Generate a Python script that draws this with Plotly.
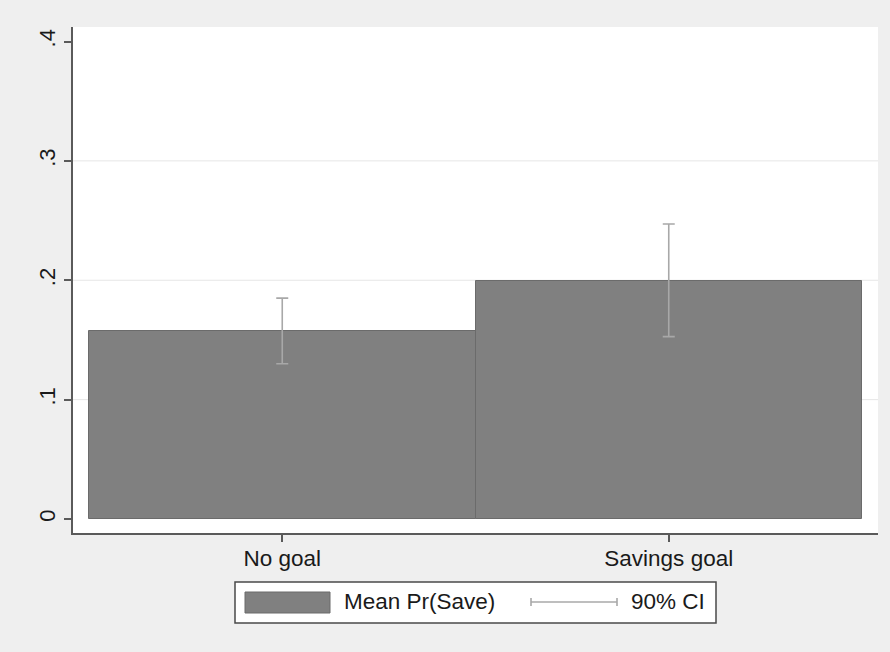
import plotly.graph_objects as go

# Mean probability of saving by goal condition, with 90% confidence bounds
groups = ["No goal", "Savings goal"]
mean_pr_save = [0.1575, 0.1993]
ci_lower = [0.1300, 0.1528]
ci_upper = [0.1850, 0.2471]

y_ticks = [0, 0.1, 0.2, 0.3, 0.4]
y_tick_text = ["0", ".1", ".2", ".3", ".4"]
grid_levels = [0.1, 0.2, 0.3]

legend_labels = ["Mean Pr(Save)", "90% CI"]

# Canvas and plot-area geometry (pixels)
W, H = 890, 652
L, R, T, B = 73, 12, 27, 119
PW, PH = W - L - R, H - T - B

BAR_FILL = "#808080"
BAR_EDGE = "#6b6b6b"
CI_COLOR = "#a8a8a8"
AXIS_COLOR = "#5a5a5a"
TEXT_COLOR = "#1a1a1a"
FONT = "Liberation Sans, Arial, sans-serif"


def px_x(px):
    return (px - L) / PW


def px_y(py):
    return (H - B - py) / PH


err_plus = [u - m for u, m in zip(ci_upper, mean_pr_save)]
err_minus = [m - lo for m, lo in zip(mean_pr_save, ci_lower)]

fig = go.Figure()
fig.add_trace(go.Bar(
    x=groups,
    y=mean_pr_save,
    width=1.0,
    marker=dict(color=BAR_FILL, line=dict(color=BAR_EDGE, width=1)),
    error_y=dict(type="data", symmetric=False, array=err_plus,
                 arrayminus=err_minus, color=CI_COLOR, thickness=1.6, width=6),
    name=legend_labels[0],
    showlegend=False,
    hoverinfo="skip",
))

shapes = []
# Horizontal grid lines drawn under the bars
for g in grid_levels:
    shapes.append(dict(type="line", xref="paper", yref="y", x0=0, x1=1,
                       y0=g, y1=g, layer="below",
                       line=dict(color="#e6e6e6", width=1)))

# Legend frame and keys
shapes.append(dict(type="rect", xref="paper", yref="paper",
                   x0=px_x(235), x1=px_x(716), y0=px_y(623), y1=px_y(582),
                   fillcolor="white", line=dict(color="#4a4a4a", width=1.5)))
shapes.append(dict(type="rect", xref="paper", yref="paper",
                   x0=px_x(245), x1=px_x(330), y0=px_y(613), y1=px_y(592),
                   fillcolor=BAR_FILL, line=dict(color=BAR_EDGE, width=1)))
ci_y = px_y(602)
shapes.append(dict(type="line", xref="paper", yref="paper",
                   x0=px_x(531), x1=px_x(617), y0=ci_y, y1=ci_y,
                   line=dict(color=CI_COLOR, width=1.6)))
for cx in (531, 617):
    shapes.append(dict(type="line", xref="paper", yref="paper",
                       x0=px_x(cx), x1=px_x(cx), y0=px_y(598), y1=px_y(606),
                       line=dict(color=CI_COLOR, width=1.6)))

annotations = [
    dict(text=legend_labels[0], xref="paper", yref="paper", x=px_x(342),
         y=ci_y, xanchor="left", yanchor="middle", showarrow=False,
         font=dict(size=22.5, color=TEXT_COLOR, family=FONT)),
    dict(text=legend_labels[1], xref="paper", yref="paper", x=px_x(629),
         y=ci_y, xanchor="left", yanchor="middle", showarrow=False,
         font=dict(size=22.5, color=TEXT_COLOR, family=FONT)),
]

fig.update_layout(
    width=W, height=H,
    margin=dict(l=L, r=R, t=T, b=B, pad=0),
    paper_bgcolor="#efefef",
    plot_bgcolor="white",
    font=dict(family=FONT, size=22, color=TEXT_COLOR),
    shapes=shapes,
    annotations=annotations,
    bargap=0,
)

fig.update_xaxes(
    range=[-0.5 - 16 / 386.5, 1.5 + 16 / 386.5],
    showgrid=False, zeroline=False,
    showline=True, linecolor=AXIS_COLOR, linewidth=2,
    ticks="outside", ticklen=7, tickwidth=1.5, tickcolor=AXIS_COLOR,
    tickfont=dict(size=22.5, color=TEXT_COLOR),
    ticklabelstandoff=-3,
)

y_bottom = -(533 - 519) / 1194
y_top = 0.4 + (41.5 - 27) / 1194
fig.update_yaxes(
    range=[y_bottom, y_top],
    tickvals=y_ticks, ticktext=y_tick_text, tickangle=-90,
    showgrid=False, zeroline=False,
    showline=True, linecolor=AXIS_COLOR, linewidth=2,
    ticks="outside", ticklen=7, tickwidth=1.5, tickcolor=AXIS_COLOR,
    tickfont=dict(size=22, color=TEXT_COLOR),
)

fig.write_html("out.html")
